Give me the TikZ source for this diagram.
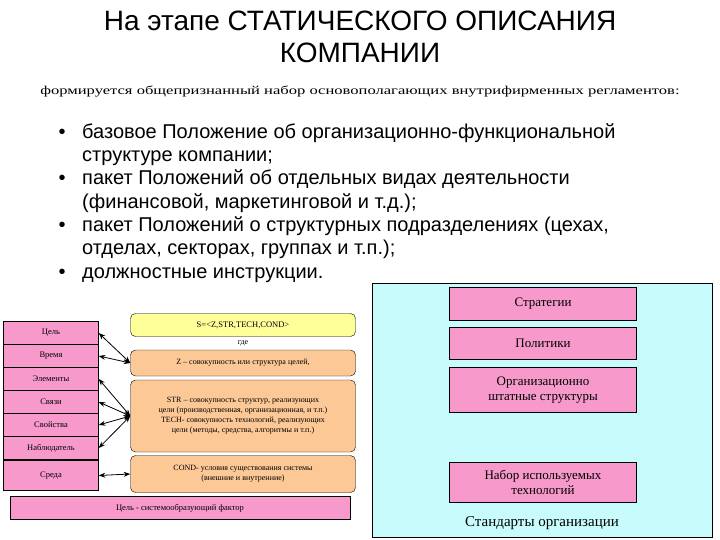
\documentclass[tikz,border=0pt]{standalone}
\usepackage{fontspec}
\setmainfont{Liberation Serif}
\newfontfamily\sansf{Liberation Sans}
\usetikzlibrary{arrows.meta}
\definecolor{pnk}{HTML}{F79ACB}
\definecolor{yel}{HTML}{FFFF99}
\definecolor{org}{HTML}{FCC896}
\definecolor{cyn}{HTML}{C8FCFC}
\tikzset{
 cell/.style={draw=black,fill=pnk,minimum width=95pt,minimum height=23pt,inner sep=0pt,font=\fontsize{8.5}{9}\selectfont},
 rbox/.style={draw=black,fill=pnk,minimum width=187pt,inner sep=1pt,align=center,font=\fontsize{13}{15}\selectfont},
 obox/.style={draw=black,fill=org,rounded corners=5pt,minimum width=225pt,align=center,inner sep=1pt,font=\fontsize{8}{10}\selectfont},
 arr/.style={Stealth-Stealth,thick},
 bul/.style={anchor=north west,align=left,font=\sansf\fontsize{20}{23.3}\selectfont}
}
\begin{document}
\begin{tikzpicture}[x=1pt,y=-1pt]
\useasboundingbox (0,0) rectangle (720,540);
\node[font=\sansf\fontsize{28}{32}\selectfont,align=center] (title) at (360,37) {На этапе СТАТИЧЕСКОГО ОПИСАНИЯ\\КОМПАНИИ};
\node[font=\fontsize{12}{12}\selectfont,xscale=1.38] (sub) at (360,92) {формируется общепризнанный набор основополагающих внутрифирменных регламентов:};
\node[bul] (b1) at (55,120) {•\ \ \ базовое Положение об организационно-функциональной\\\phantom{•\ \ \ }структуре компании;\\
•\ \ \ пакет Положений об отдельных видах деятельности\\\phantom{•\ \ \ }(финансовой, маркетинговой и т.д.);\\
•\ \ \ пакет Положений о структурных подразделениях (цехах,\\\phantom{•\ \ \ }отделах, секторах, группах и т.п.);\\
•\ \ \ должностные инструкции.};
% right panel
\node[draw=black,fill=cyn,minimum width=340pt,minimum height=254pt,inner sep=0pt] (rp) at (542,410) {};
\node[rbox,minimum height=33pt] (s1) at (543,304) {Стратегии};
\node[rbox,minimum height=32pt] (s2) at (543,343) {Политики};
\node[rbox,minimum height=45pt] (s3) at (543,390) {Организационно\\штатные структуры};
\node[rbox,minimum height=40pt] (s4) at (543,482) {Набор используемых\\технологий};
\node[font=\fontsize{15}{17}\selectfont] (std) at (542,523) {Стандарты организации};
% left panel
\node[cell] (c1) at (51,333) {Цель};
\node[cell] (c2) at (51,356) {Время};
\node[cell] (c3) at (51,379) {Элементы};
\node[cell] (c4) at (51,402) {Связи};
\node[cell] (c5) at (51,425) {Свойства};
\node[cell] (c6) at (51,448) {Наблюдатель};
\node[cell,minimum height=30pt] (c7) at (51,475.5) {Среда};
\node[draw=black,fill=yel,rounded corners=5pt,minimum width=225pt,minimum height=23pt,font=\fontsize{8.5}{9}\selectfont] (y) at (243,325) {S=<Z,STR,TECH,COND>};
\node[font=\fontsize{8}{9}\selectfont] (gde) at (243,343) {где};
\node[obox,minimum height=26pt] (z) at (243,363) {Z -- совокупность или структура целей,};
\node[obox,minimum height=72pt] (str) at (243,416) {STR -- совокупность структур, реализующих\\цели (производственная, организационная, и т.п.)\\TECH- совокупность технологий, реализующих\\цели (методы, средства, алгоритмы и т.п.)};
\node[obox,minimum height=37pt] (cond) at (243,474) {COND- условия существования системы\\(внешние и внутренние)};
\node[draw=black,fill=pnk,minimum width=340pt,minimum height=23pt,inner sep=0pt,font=\fontsize{8.5}{9}\selectfont] (goal) at (180,508) {Цель - системообразующий фактор};
\coordinate (zl) at (z.west);
\coordinate (sl) at (str.west);
\draw[arr] (c1.east) -- (zl);
\draw[arr] (c2.east) -- (zl);
\draw[arr] (c3.east) -- (sl);
\draw[arr] (c4.east) -- (sl);
\draw[arr] (c5.east) -- (sl);
\draw[arr] (c6.east) -- (sl);
\draw[arr] (c7.east) -- (cond.west);
\end{tikzpicture}
\end{document}
